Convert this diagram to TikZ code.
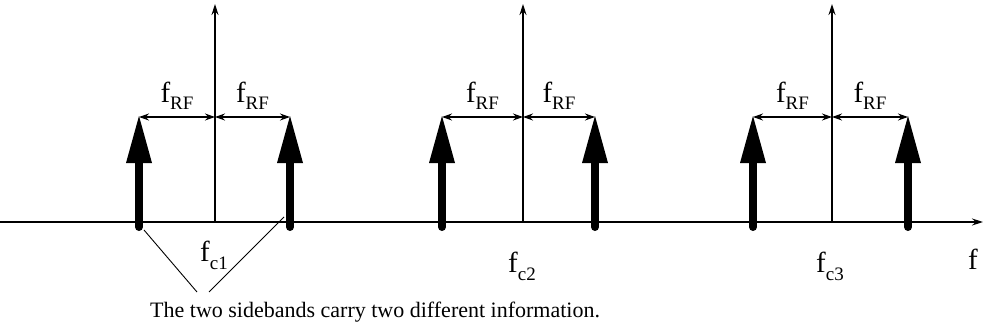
\documentclass[tikz,border=0pt]{standalone}
\usepackage{fontspec}
\setmainfont{Liberation Serif}
\usetikzlibrary{arrows.meta}
\begin{document}
\begin{tikzpicture}[x=1pt,y=-1pt,
  axis/.style={line width=1.3pt,-{Stealth[length=11pt,width=7pt]}},
  dim/.style={line width=1.1pt,{Stealth[length=10pt,width=7pt]}-{Stealth[length=10pt,width=7pt]}},
  lbl/.style={inner sep=0pt},
  note/.style={line width=0.9pt}]
\useasboundingbox (0,0) rectangle (983,329);
\newcommand{\fRF}{{\fontsize{29}{30}\selectfont f}\raisebox{-7pt}{\fontsize{19}{21}\selectfont RF}}
\newcommand{\fc}[1]{{\fontsize{29}{30}\selectfont f}\raisebox{-8pt}{\fontsize{19}{21}\selectfont c#1}}
% horizontal axis
\coordinate (xs) at (0,222);
\coordinate (xe) at (983,222);
\draw[axis] (xs) -- (xe);
\node[lbl] (f) at (973,259) {\fontsize{29}{30}\selectfont f};
% clusters
\foreach \i/\c/\l/\r in {1/215/139/290, 2/523/442/595, 3/832/753/908}{
  \coordinate (b\i) at (\c,222);
  \coordinate (t\i) at (\c,4);
  \draw[axis] (b\i) -- (t\i);
  \coordinate (m\i) at (\c,117);
  \coordinate (L\i) at (\l,117);
  \coordinate (R\i) at (\r,117);
  \draw[dim] (L\i) -- (m\i);
  \draw[dim] (m\i) -- (R\i);
  \foreach \p in {\l,\r}{
    \draw[line width=8pt,line cap=round] (\p,227) -- (\p,160);
    \fill (\p,116) -- (\p-13,163) -- (\p+13,163) -- cycle;
  }
  \node[lbl] (rl\i) at ({(\l+\c)/2},96) {\fRF};
  \node[lbl] (rr\i) at ({(\r+\c)/2},96) {\fRF};
}
\node[lbl] (c1) at (214,255) {\fc{1}};
\node[lbl] (c2) at (522,266) {\fc{2}};
\node[lbl] (c3) at (830,266) {\fc{3}};
% note
\node[lbl,anchor=base west] (note) at (150,317) {\fontsize{22}{24}\selectfont The two sidebands carry two different information.};
\coordinate (n1) at (197,292);
\coordinate (n2) at (209,292);
\coordinate (s1) at (144,230);
\coordinate (s2) at (284,217);
\draw[note] (n1) -- (s1);
\draw[note] (n2) -- (s2);
\end{tikzpicture}
\end{document}
